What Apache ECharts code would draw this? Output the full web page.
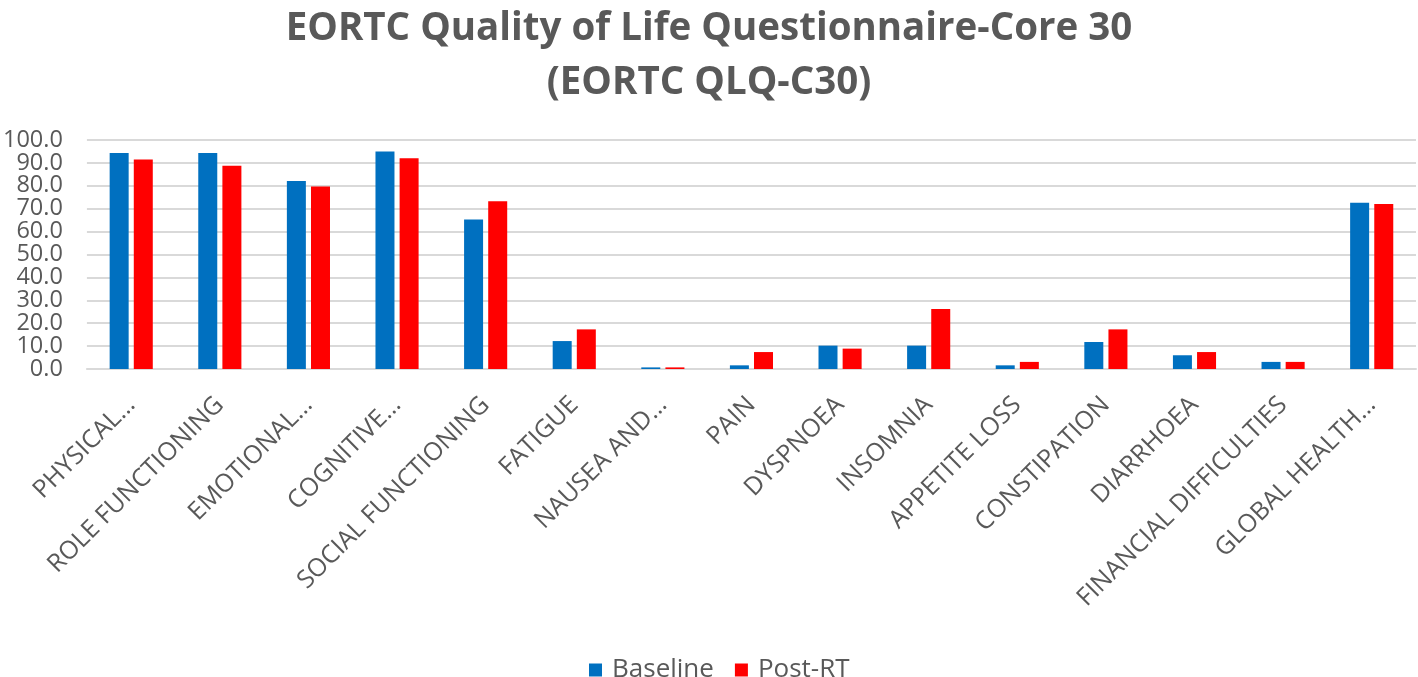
<!DOCTYPE html>
<html>
<head>
<meta charset="utf-8">
<script src="https://cdn.jsdelivr.net/npm/echarts@6/dist/echarts.min.js"></script>
<style>
html,body{margin:0;padding:0;background:#fff;}
#c{width:1418px;height:677px;}
</style>
</head>
<body>
<div id="c"></div>
<script>
const categories = ["PHYSICAL…","ROLE FUNCTIONING","EMOTIONAL…","COGNITIVE…","SOCIAL FUNCTIONING","FATIGUE","NAUSEA AND…","PAIN","DYSPNOEA","INSOMNIA","APPETITE LOSS","CONSTIPATION","DIARRHOEA","FINANCIAL DIFFICULTIES","GLOBAL HEALTH…"];
const baseline = [94.3, 94.3, 82.1, 95.0, 65.3, 12.2, 0.7, 1.6, 10.2, 10.2, 1.6, 11.8, 6.0, 3.1, 72.6];
const postRT   = [91.5, 88.8, 79.7, 92.0, 73.3, 17.3, 0.7, 7.4, 8.9, 26.2, 3.1, 17.3, 7.4, 3.1, 72.0];
const seriesNames = ["Baseline", "Post-RT"];
const titleLines = ["EORTC Quality of Life Questionnaire-Core 30", "(EORTC QLQ-C30)"];
const yTicksEven = [0, 20, 40, 60, 80, 100];
const yTicksOdd = [10, 30, 50, 70, 90];

const chart = echarts.init(document.getElementById('c'), null, {renderer:'canvas'});
const gray = '#595959';
const labelFont = '"Open Sans", sans-serif';
const yLabel = (vals) => ({
  margin:24, customValues: vals, showMinLabel:true, showMaxLabel:true,
  fontFamily:labelFont, fontSize:23.5, color:gray, formatter:v=>Number(v).toFixed(1)
});
chart.setOption({
  animation:false,
  backgroundColor:'#fff',
  title:{
    text: titleLines.join('\n'),
    left:'center', top:-3,
    textStyle:{fontFamily:'"Open Sans", sans-serif', fontWeight:'bold', fontSize:38.5, lineHeight:54, color:gray}
  },
  legend:{
    data: seriesNames,
    left: 584, top: 652,
    itemWidth:13, itemHeight:13, itemGap:21,
    icon:'rect',
    textStyle:{fontFamily:labelFont, fontSize:26, color:gray, padding:[0,0,0,5]}
  },
  grid:{left:84, right:2, top:140, bottom:308, containLabel:false},
  xAxis:{
    type:'category', data:categories,
    axisLine:{show:true, lineStyle:{color:'#d9d9d9', width:2}},
    axisTick:{show:false},
    axisLabel:{rotate:45, interval:0, margin:32, padding:[30,0,0,0], fontFamily:labelFont, fontSize:25, color:gray}
  },
  yAxis:[
    {
      type:'value', min:0, max:100, interval:10, position:'left',
      axisLine:{show:false}, axisTick:{show:false},
      axisLabel: yLabel(yTicksEven),
      splitLine:{show:true, lineStyle:{color:'#d9d9d9', width:2}}
    },
    {
      type:'value', min:0, max:100, interval:10, position:'left', offset:0,
      axisLine:{show:false}, axisTick:{show:false},
      axisLabel: yLabel(yTicksOdd),
      splitLine:{show:false}
    }
  ],
  series:[
    {name:seriesNames[0], type:'bar', yAxisIndex:0, data:baseline, barWidth:19, barGap:'27%', itemStyle:{color:'#0070C0'}},
    {name:seriesNames[1], type:'bar', yAxisIndex:0, data:postRT, barWidth:19, barGap:'27%', itemStyle:{color:'#FF0000'}}
  ]
});
</script>
</body>
</html>
